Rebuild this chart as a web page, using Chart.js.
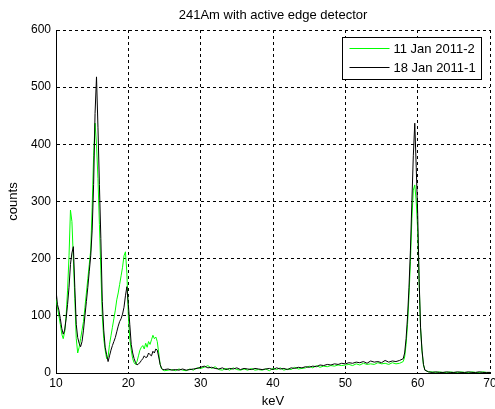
<!DOCTYPE html>
<html>
<head>
<meta charset="utf-8">
<script src="https://cdn.jsdelivr.net/npm/chart.js@4.4.0/dist/chart.umd.min.js"></script>
<style>
  html, body { margin: 0; padding: 0; background: #fff; }
  canvas { display: block; }
</style>
</head>
<body>
<canvas id="spectrum" width="495" height="409"></canvas>
<script>
// energy axis (keV), finer where the peaks are
const keV = [
  10, 10.2, 10.4, 10.6, 10.8, 11, 11.2, 11.4, 11.6, 11.8,
  12, 12.2, 12.4, 12.6, 12.8, 13, 13.2, 13.4, 13.6, 13.8,
  14, 14.2, 14.4, 14.6, 14.8, 15, 15.2, 15.4, 15.6, 15.8,
  16, 16.2, 16.4, 16.6, 16.8, 17, 17.2, 17.4, 17.6, 17.8,
  18, 18.2, 18.4, 18.6, 18.8, 19, 19.2, 19.4, 19.6, 19.8,
  20, 20.2, 20.4, 20.6, 20.8, 21, 21.2, 21.4, 21.6, 21.8,
  22, 22.2, 22.4, 22.6, 22.8, 23, 23.2, 23.4, 23.6, 23.8,
  24, 24.2, 24.4, 24.6, 24.8,
  25, 25.5, 26, 26.5, 27, 27.5, 28, 28.5, 29, 29.5,
  30, 30.5, 31, 31.5, 32, 32.5, 33, 33.5, 34, 34.5,
  35, 35.5, 36, 36.5, 37, 37.5, 38, 38.5, 39, 39.5,
  40, 40.5, 41, 41.5, 42, 42.5, 43, 43.5, 44, 44.5,
  45, 45.5, 46, 46.5, 47, 47.5, 48, 48.5, 49, 49.5,
  50, 50.5, 51, 51.5, 52, 52.5, 53, 53.5, 54, 54.5,
  55, 55.5, 56, 56.5, 57, 57.5,
  58, 58.2, 58.4, 58.6, 58.8, 59, 59.2, 59.4, 59.6, 59.8,
  60, 60.2, 60.4, 60.6, 60.8, 61,
  61.5, 62, 62.5, 63, 63.5, 64, 64.5, 65, 65.5, 66,
  66.5, 67, 67.5, 68, 68.5, 69, 69.5, 70
];

// 18 Jan 2011-1 (black)
const counts18Jan = [
  145, 120, 110, 95, 78, 68, 75, 95, 120, 150,
  190, 210, 221, 150, 85, 62, 52, 46, 55, 75,
  100, 125, 150, 178, 205, 250, 330, 454, 518, 430,
  330, 235, 125, 75, 45, 32, 20, 30, 40, 48,
  55, 62, 72, 82, 90, 95, 103, 115, 135, 151,
  120, 85, 50, 35, 25, 18, 14, 16, 18, 22,
  25, 30, 27, 28, 35, 32, 30, 38, 35, 42,
  40, 28, 15, 8, 6,
  6, 7, 5, 6, 5, 7, 5, 6, 7, 8,
  10, 12, 9, 10, 8, 7, 9, 6, 8, 7,
  9, 6, 8, 7, 6, 8, 7, 6, 7, 8,
  6, 9, 7, 8, 6, 9, 8, 10, 9, 11,
  10, 12, 11, 14, 13, 15, 14, 16, 15, 17,
  16, 18, 17, 19, 18, 20, 17, 21, 19, 20,
  18, 22, 19, 21, 20, 22,
  25, 35, 60, 98, 150, 215, 300, 380, 437, 360,
  280, 165, 80, 40, 15, 5,
  2, 1, 2, 1, 1, 2, 1, 1, 2, 1,
  1, 2, 1, 1, 2, 1, 1, 1
];

// 11 Jan 2011-2 (green)
const counts11Jan = [
  130, 115, 100, 85, 68, 60, 72, 100, 145, 205,
  285, 265, 200, 130, 60, 35, 45, 60, 75, 90,
  115, 140, 165, 190, 215, 290, 380, 437, 400, 340,
  260, 180, 100, 60, 40, 25, 28, 50, 65, 80,
  95, 110, 128, 140, 155, 170, 185, 205, 212, 175,
  100, 60, 40, 25, 18, 15, 20, 30, 40, 45,
  48, 42, 52, 45, 55, 50, 58, 66, 60, 63,
  55, 35, 15, 7, 5,
  4, 5, 6, 4, 7, 5, 4, 7, 5, 9,
  8, 10, 13, 8, 11, 6, 5, 8, 5, 9,
  6, 5, 7, 5, 8, 5, 6, 5, 7, 4,
  8, 6, 9, 5, 7, 6, 10, 7, 8, 9,
  12, 9, 13, 10, 12, 11, 13, 12, 14, 13,
  14, 15, 13, 16, 14, 17, 15, 16, 15, 18,
  16, 17, 15, 18, 16, 17,
  20, 28, 50, 85, 135, 195, 270, 320, 329, 300,
  250, 160, 78, 38, 14, 5,
  2, 2, 1, 2, 1, 1, 2, 1, 1, 2,
  1, 1, 2, 1, 1, 2, 1, 1
];

const chartTitle = '241Am with active edge detector';
const legendLabels = ['11 Jan 2011-2', '18 Jan 2011-1'];
const legendColors = ['#00ff00', '#000000'];

const FONT = '"Liberation Sans", Arial, sans-serif';

function toPoints(ys) {
  return keV.map((k, i) => ({ x: k, y: ys[i] }));
}

// title over the plot and the boxed legend in the top right corner
const matlabDecor = {
  id: 'matlabDecor',
  afterDraw(chart) {
    const ctx = chart.ctx;
    const area = chart.chartArea;
    ctx.save();
    ctx.fillStyle = '#000';
    ctx.font = '13px ' + FONT;
    ctx.textAlign = 'center';
    ctx.textBaseline = 'middle';
    ctx.fillText(chartTitle, (area.left + area.right) / 2, 15);

    const bx = area.right - 147.5, by = area.top + 7.5, bw = 139, bh = 42;
    ctx.fillStyle = '#fff';
    ctx.fillRect(bx, by, bw, bh);
    ctx.strokeStyle = '#000';
    ctx.lineWidth = 1;
    ctx.strokeRect(bx, by, bw, bh);

    ctx.textAlign = 'left';
    legendLabels.forEach((lab, i) => {
      const y = by + 11 + i * 19;
      ctx.strokeStyle = legendColors[i];
      ctx.beginPath();
      ctx.moveTo(bx + 7, y);
      ctx.lineTo(bx + 47, y);
      ctx.stroke();
      ctx.fillStyle = '#000';
      ctx.fillText(lab, bx + 51, y + 0.5);
    });
    ctx.restore();
  }
};

new Chart(document.getElementById('spectrum'), {
  type: 'line',
  data: {
    datasets: [
      {
        label: legendLabels[1],
        data: toPoints(counts18Jan),
        borderColor: legendColors[1],
        borderWidth: 1,
        pointRadius: 0,
        fill: false
      },
      {
        label: legendLabels[0],
        data: toPoints(counts11Jan),
        borderColor: legendColors[0],
        borderWidth: 1,
        pointRadius: 0,
        fill: false
      }
    ]
  },
  options: {
    responsive: false,
    animation: false,
    devicePixelRatio: 1,
    layout: { padding: { top: 30, right: 5, left: 0, bottom: 0 } },
    plugins: {
      legend: { display: false },
      title: { display: false },
      tooltip: { enabled: false }
    },
    scales: {
      x: {
        type: 'linear',
        min: 10,
        max: 70,
        ticks: { stepSize: 10, color: '#000', font: { family: FONT, size: 12 }, padding: 3, maxRotation: 0 },
        grid: { color: '#000', drawTicks: false },
        border: { color: '#000', dash: [3, 3] },
        title: { display: true, text: 'keV', color: '#000', font: { family: FONT, size: 13 }, padding: { top: 0, bottom: 0 } },
        afterFit(s) { s.height = 36; s.paddingLeft = 0; s.paddingRight = 0; }
      },
      y: {
        min: 0,
        max: 600,
        ticks: { stepSize: 100, color: '#000', font: { family: FONT, size: 12 }, padding: 5 },
        grid: { color: '#000', drawTicks: false },
        border: { color: '#000', dash: [3, 3] },
        title: { display: true, text: 'counts', color: '#000', font: { family: FONT, size: 13 }, padding: { top: 6, bottom: 0 } },
        afterFit(s) { s.width = 56; s.paddingTop = 0; s.paddingBottom = 0; }
      }
    }
  },
  plugins: [matlabDecor]
});
</script>
</body>
</html>
